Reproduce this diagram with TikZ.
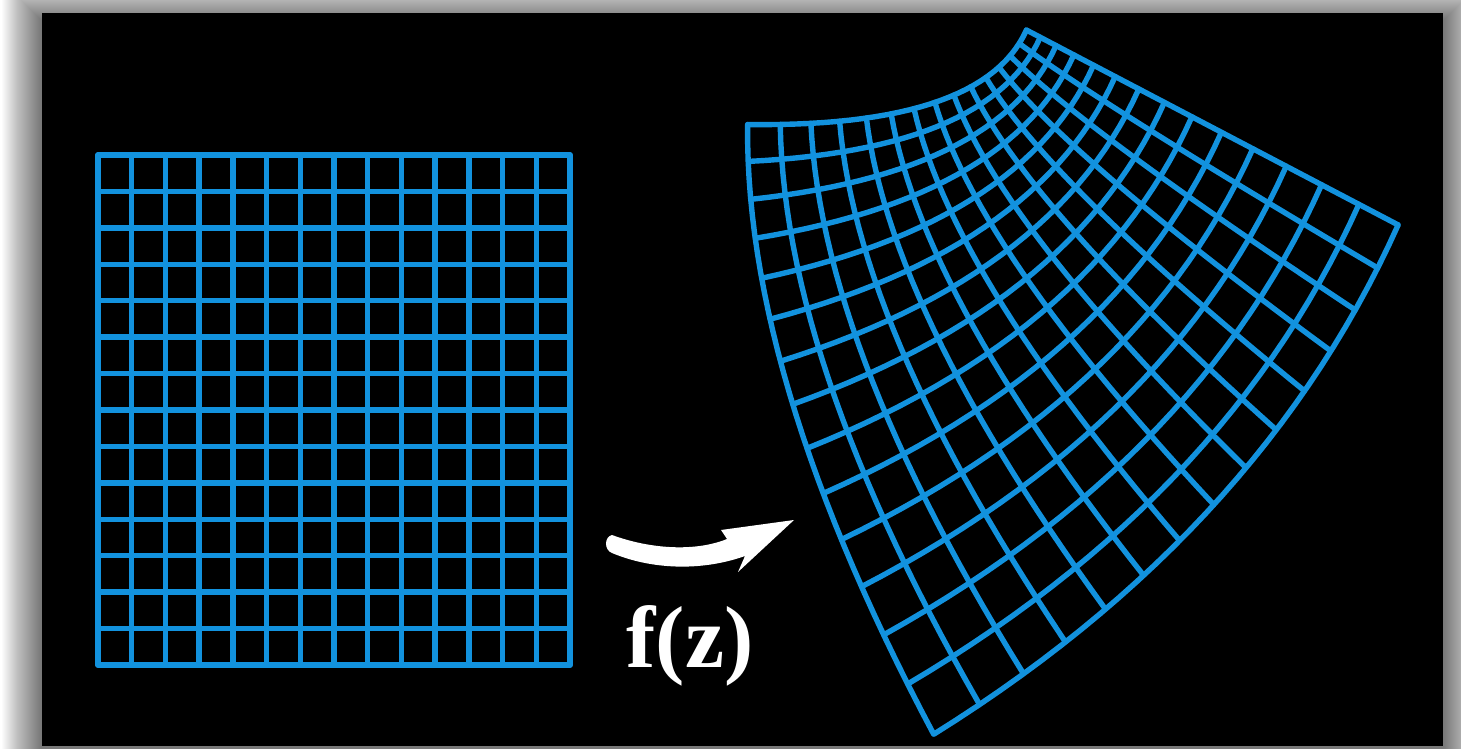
\documentclass[tikz,border=0pt]{standalone}
\usepackage{fontspec}
\setmainfont{Liberation Serif}
\definecolor{gridblue}{RGB}{18,146,222}
\tikzset{
  gridln/.style={draw=gridblue, line width=2.7pt, line join=round, line cap=round},
  declare function={
    mx(\a,\b)=984.1+191.6*(\a*\a-\b*\b)-185.6*\a*\b;
    my(\a,\b)=1.0825*(7.25+383.2*\a*\b+92.8*(\a*\a-\b*\b));
  }
}
\begin{document}
\begin{tikzpicture}[x=0.5pt,y=-0.5pt]
\useasboundingbox (0,0) rectangle (1461,749);
\fill[white] (0,0) rectangle (1461,749);
% soft shadow
\foreach \r in {1,...,40} {
  \fill[black, fill opacity=0.016] (42-\r,21-\r) rectangle (1443+\r,754+\r);
}
\fill[black] (42,13) rectangle (1443,746);
% left square grid
\foreach \k in {0,...,14} {
  \draw[gridln] ({98+\k*472/14},155) -- ({98+\k*472/14},665);
  \draw[gridln] (98,{155+\k*510/14}) -- (570,{155+\k*510/14});
}
% right mapped grid (image of the square under z^2)
\foreach \k in {0,...,14} {
  \pgfmathsetmacro\u{0.47+\k/14}
  \pgfmathsetmacro\v{\k/14}
  \draw[gridln] plot[domain=0:1, samples=30, variable=\t] ({mx(\u,\t)},{my(\u,\t)});
  \draw[gridln] plot[domain=0.47:1.47, samples=30, variable=\t] ({mx(\t,\v)},{my(\t,\v)});
}
% curved arrow
\coordinate (atail) at (612,545);
\coordinate (atip) at (794,520);
\fill[white] (612,535) .. controls (650,549) and (695,552) .. (727,539) -- (721,530) -- (atip) -- (738,572) -- (745,556) .. controls (700,572) and (650,569) .. (612,553) .. controls (604,550) and (604,537) .. (612,535) -- cycle;
% label
\node[text=white, font=\bfseries\fontsize{44}{50}\selectfont, anchor=base, inner sep=0pt] (fz) at (690,667) {f(z)};
\end{tikzpicture}
\end{document}
